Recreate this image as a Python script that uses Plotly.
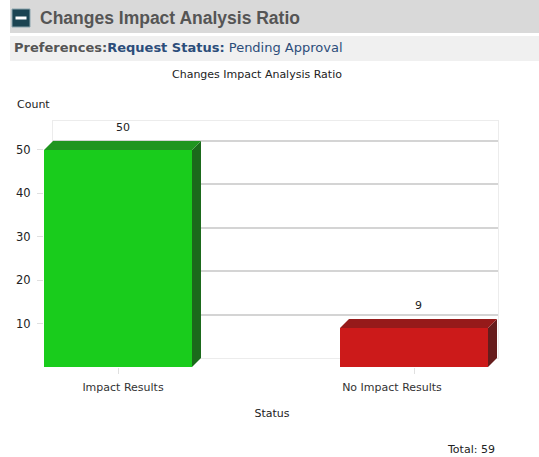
import plotly.graph_objects as go

# data
categories = ["Impact Results", "No Impact Results"]
counts = [50, 9]
front_colors = ["#19cc1c", "#cc1a1a"]
side_colors = ["#1b6a1b", "#661c1c"]
top_colors = ["#1f951f", "#961a1a"]
y_ticks = [10, 20, 30, 40, 50]
total = sum(counts)

W, H = 539, 457
FONT = "DejaVu Sans, Verdana, sans-serif"
HEAD_FONT = "Liberation Sans, Arial, sans-serif"


def px_x(a, b):
    return [a / W, b / W]


def px_y(top, bottom):
    return [1 - bottom / H, 1 - top / H]


# geometry of the pseudo 3d box (pixels)
front_l, front_r, front_t, front_b = 44, 500, 130, 367
depth_x, depth_y = 9, 9
px_per_x = 296.0
x0 = -0.25
x1 = x0 + (front_r - front_l) / px_per_x
y_top = 54.6
bar_w = 0.5
dx = depth_x / px_per_x
dy = depth_y * y_top / (front_b - front_t)
# labels in the source are not quite centred under the ticks
label_pos = [0 + 5 / px_per_x, 1 - 22 / px_per_x]

fig = go.Figure()

# back wall (grid only)
fig.add_trace(go.Scatter(x=[0], y=[0], mode="markers", marker=dict(opacity=0),
                         hoverinfo="skip", showlegend=False, xaxis="x", yaxis="y"))

# bars, front faces
fig.add_trace(go.Bar(x=[0, 1], y=counts, width=bar_w, marker=dict(color=front_colors, line=dict(width=0)),
                     showlegend=False, xaxis="x2", yaxis="y2"))

# side and top faces
for i, v in enumerate(counts):
    r = i + bar_w / 2
    l = i - bar_w / 2
    fig.add_trace(go.Scatter(x=[r, r, r + dx, r + dx, r], y=[0, v, v + dy, dy, 0], fill="toself",
                             fillcolor=side_colors[i], line=dict(width=0), mode="lines",
                             showlegend=False, hoverinfo="skip", xaxis="x2", yaxis="y2"))
    fig.add_trace(go.Scatter(x=[l, r, r + dx, l + dx, l], y=[v, v, v + dy, v + dy, v], fill="toself",
                             fillcolor=top_colors[i], line=dict(width=0), mode="lines",
                             showlegend=False, hoverinfo="skip", xaxis="x2", yaxis="y2"))
    # value label
    fig.add_annotation(x=i + dx / 2, y=v + dy, xref="x2", yref="y2", text=str(v), showarrow=False,
                       yanchor="bottom", yshift=5, font=dict(size=11, color="#222222", family=FONT))

fig.update_layout(
    width=W, height=H,
    margin=dict(l=0, r=0, t=0, b=0),
    paper_bgcolor="white", plot_bgcolor="rgba(0,0,0,0)",
    font=dict(family=FONT, size=11, color="#222222"),
    xaxis=dict(domain=px_x(front_l + depth_x, front_r - 2), range=[x0, x0 + (front_r - 2 - front_l - depth_x) / px_per_x],
               showgrid=False, zeroline=False, showticklabels=False, showline=True, mirror=True,
               linecolor="#ececec", fixedrange=True),
    yaxis=dict(domain=px_y(front_t - depth_y, front_b - depth_y), range=[0, y_top], anchor="x",
               tickvals=[0] + y_ticks, showticklabels=False, gridcolor="#d4d4d4", gridwidth=1.5,
               zeroline=False, showline=True, mirror=True, linecolor="#ececec", fixedrange=True),
    xaxis2=dict(domain=px_x(front_l, front_r), range=[x0, x1], anchor="y2",
                tickvals=label_pos, ticktext=categories, ticks="",
                minor=dict(tickvals=[0, 1], ticks="outside", ticklen=6, tickcolor="#e0e0e0", showgrid=False),
                tickfont=dict(size=11, color="#333333"), showgrid=False, zeroline=False,
                showline=False, fixedrange=True, ticklabelstandoff=12,
                title=dict(text="Status", font=dict(size=11, color="#222222"), standoff=16)),
    yaxis2=dict(domain=px_y(front_t, front_b), range=[0, y_top], anchor="x2",
                tickvals=y_ticks, ticks="outside", ticklen=6, tickcolor="#e0e0e0",
                tickfont=dict(size=11.5, color="#222222"), showgrid=False, zeroline=False,
                showline=False, fixedrange=True, ticklabelstandoff=4),
)

# header bands
fig.add_shape(type="rect", xref="paper", yref="paper", x0=10 / W, x1=1, y0=1 - 33 / H, y1=1,
              fillcolor="#d9d9d9", line=dict(width=0), layer="below")
fig.add_shape(type="rect", xref="paper", yref="paper", x0=10 / W, x1=1, y0=1 - 61 / H, y1=1 - 36 / H,
              fillcolor="#f0f0f0", line=dict(width=0), layer="below")
# collapse icon
fig.add_shape(type="rect", xref="paper", yref="paper", x0=12 / W, x1=30 / W, y0=1 - 27 / H, y1=1 - 9 / H,
              fillcolor="#1b4452", line=dict(color="#8aa4ad", width=1))
fig.add_shape(type="rect", xref="paper", yref="paper", x0=15.5 / W, x1=26.5 / W, y0=1 - 19.5 / H, y1=1 - 16.5 / H,
              fillcolor="white", line=dict(width=0))

fig.add_annotation(text="<b>Changes Impact Analysis Ratio</b>", xref="paper", yref="paper",
                   x=38 / W, y=1 - 18 / H, xanchor="left", yanchor="middle", showarrow=False,
                   font=dict(size=17.5, color="#555555", family=HEAD_FONT))
fig.add_annotation(text="<b>Preferences:</b><b><span style='color:#2c4d7a'>Request Status:</span></b>"
                        "<span style='color:#2c4d7a'> Pending Approval</span>",
                   xref="paper", yref="paper", x=12 / W, y=1 - 48 / H, xanchor="left", yanchor="middle",
                   showarrow=False, font=dict(size=13, color="#555555", family=FONT))
fig.add_annotation(text="Changes Impact Analysis Ratio", xref="paper", yref="paper",
                   x=257 / W, y=1 - 75 / H, xanchor="center", yanchor="middle", showarrow=False,
                   font=dict(size=11, color="#222222"))
fig.add_annotation(text="Count", xref="paper", yref="paper", x=15 / W, y=1 - 104 / H,
                   xanchor="left", yanchor="middle", showarrow=False, font=dict(size=11))
fig.add_annotation(text=f"Total: {total}", xref="paper", yref="paper", x=497 / W, y=1 - 449 / H,
                   xanchor="right", yanchor="middle", showarrow=False, font=dict(size=11))

fig.write_html("out.html", config={"displayModeBar": False},
               post_script="document.body.style.margin='0';")
